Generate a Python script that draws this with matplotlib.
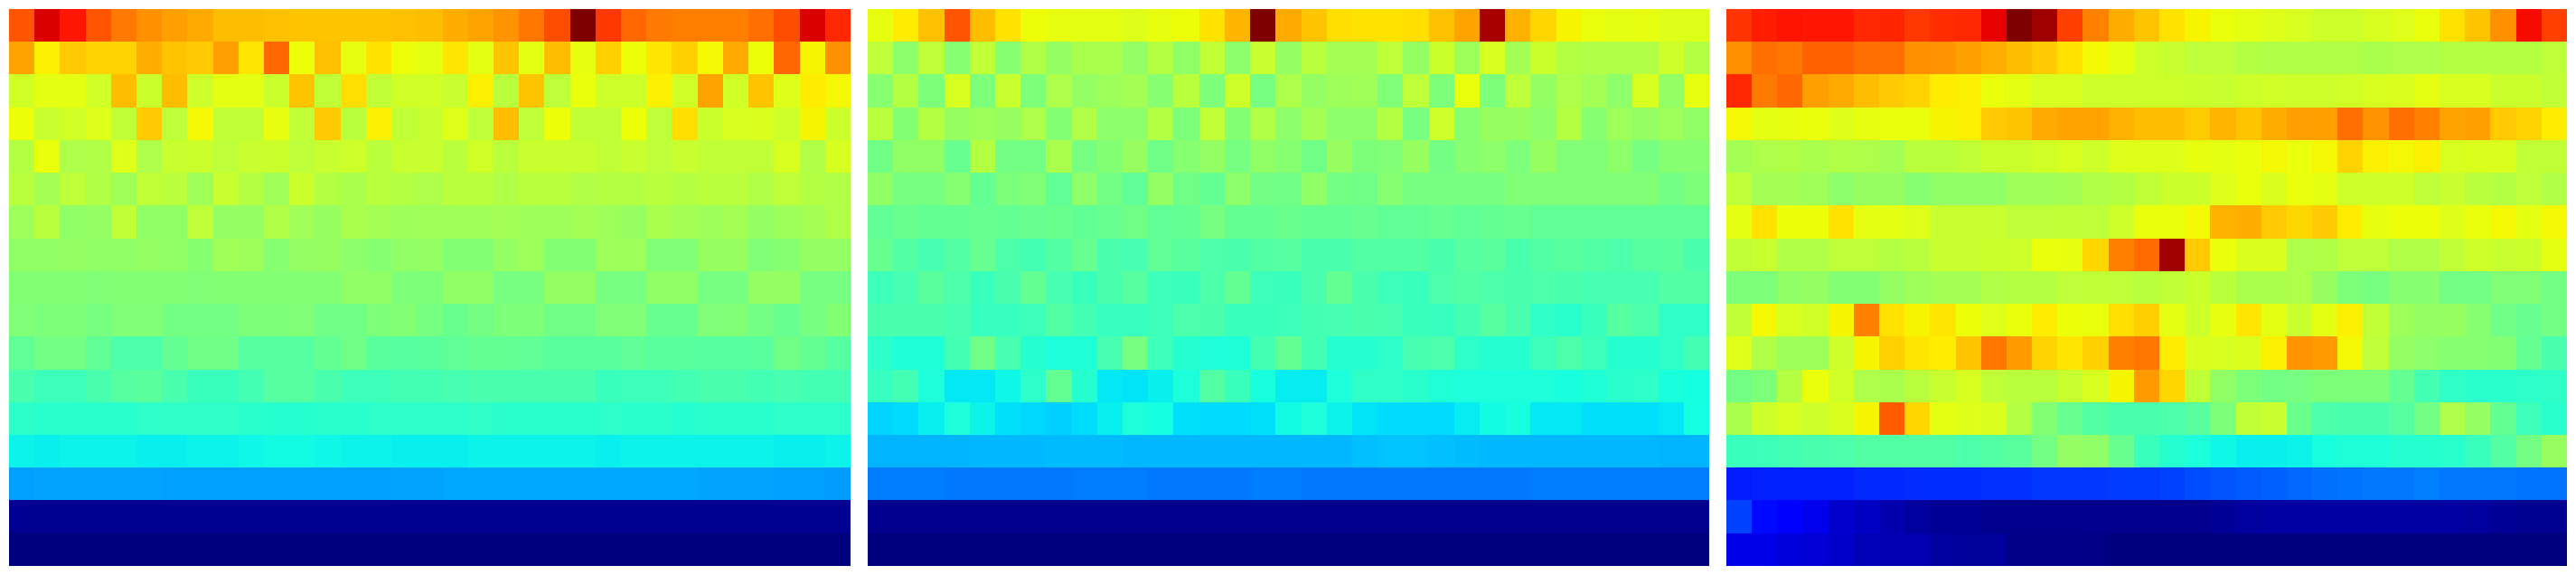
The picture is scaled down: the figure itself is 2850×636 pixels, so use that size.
import numpy as np
import matplotlib
matplotlib.use("Agg")
import matplotlib.pyplot as plt

# values in thousandths of the colour range
panel_a = [
[820,920,885,820,780,755,740,730,710,710,705,700,700,700,700,705,710,725,735,750,785,825,1000,850,800,780,775,775,775,790,825,920,865],
[735,655,695,685,685,725,700,695,740,665,800,640,705,630,670,640,625,665,625,700,625,710,630,690,640,665,690,645,730,640,800,650,755],
[605,625,625,605,710,595,710,600,625,625,595,700,585,675,585,605,605,590,655,575,700,580,635,600,600,655,605,735,605,700,620,660,645],
[640,590,605,620,585,695,580,645,585,585,630,585,695,575,655,585,590,620,580,710,580,640,585,585,640,580,675,595,610,615,600,650,595],
[570,635,560,565,620,560,590,595,580,590,595,580,590,600,575,590,590,575,605,575,590,590,590,585,590,580,590,585,585,585,610,565,610],
[575,550,580,565,545,585,575,545,590,570,545,595,570,555,575,570,560,575,575,565,575,575,565,570,570,575,570,575,575,565,580,570,565],
[540,575,525,530,585,525,525,580,530,530,565,545,535,555,550,540,545,545,545,550,540,540,550,540,535,555,550,540,550,530,540,550,565],
[525,525,530,525,525,530,525,515,545,540,515,530,535,520,515,525,530,510,510,530,540,510,510,540,540,505,505,535,535,505,515,530,530],
[510,510,510,505,510,510,510,505,510,510,510,510,510,525,525,500,500,525,525,495,495,530,530,495,495,525,525,495,495,530,530,495,495],
[505,500,500,495,505,505,490,490,490,500,500,505,485,485,500,510,495,480,490,500,500,485,485,505,505,475,475,505,505,490,475,495,510],
[465,490,490,465,445,445,470,485,485,455,455,455,470,485,460,455,460,465,470,470,465,460,460,460,465,460,460,455,455,460,485,470,455],
[440,425,425,440,455,460,440,420,420,430,455,455,440,425,425,430,430,435,440,440,440,440,440,420,425,425,430,440,440,430,435,430,430],
[405,400,400,400,400,405,410,410,410,400,395,395,400,400,405,405,405,405,410,400,400,400,400,405,400,400,395,400,400,400,405,405,405],
[365,362,365,365,365,360,360,365,365,368,374,374,370,365,365,362,362,362,365,365,365,365,365,362,365,365,365,365,365,365,362,362,365],
[284,286,286,286,286,286,285,282,282,283,285,285,285,285,285,287,289,291,291,292,292,292,292,292,292,292,290,289,288,286,285,282,280],
[16,16,16,16,16,16,16,16,16,16,16,16,16,16,16,16,16,16,16,16,16,16,16,16,16,16,16,16,16,16,16,16,16],
[0,0,0,0,0,0,0,0,0,0,0,0,0,0,0,0,0,0,0,0,0,0,0,0,0,0,0,0,0,0,0,0,0],
]

panel_b = [
[630,660,705,820,710,670,640,630,625,625,620,630,640,670,715,1000,730,700,675,670,670,675,705,735,963,720,680,650,635,625,630,620,620],
[580,520,580,515,585,515,565,530,555,555,530,570,525,585,520,590,530,575,550,550,580,530,595,540,610,550,595,570,565,565,565,600,570],
[515,570,500,610,500,590,500,560,530,540,550,515,575,500,600,495,560,530,540,545,505,580,500,635,500,580,530,560,550,520,610,530,630],
[575,510,570,535,540,535,560,510,565,520,520,570,500,585,510,565,520,550,520,520,570,495,600,515,535,535,520,570,515,540,530,540,525],
[485,525,525,475,570,490,490,555,495,510,535,485,515,530,495,525,515,485,535,500,505,535,490,515,520,500,535,505,505,520,495,515,515],
[525,495,495,515,470,500,505,465,520,490,465,530,485,470,520,490,485,525,490,485,515,495,495,495,495,505,505,505,505,505,505,490,500],
[465,480,470,470,475,470,475,480,465,475,485,465,470,495,470,470,480,470,470,475,465,465,475,465,470,475,465,465,465,465,465,465,465],
[475,450,435,450,475,445,430,450,475,440,435,465,460,445,440,450,455,440,440,450,450,450,440,455,460,440,450,455,450,445,455,460,440],
[425,435,460,445,420,440,470,435,420,440,455,425,420,445,470,425,420,440,470,440,425,420,445,450,445,440,445,440,435,435,435,450,450],
[440,440,440,435,415,415,425,450,430,415,415,425,445,440,420,420,425,430,435,440,435,420,415,430,455,440,410,400,420,455,445,410,410],
[405,390,390,430,485,435,395,385,390,435,495,425,395,385,390,430,470,430,395,395,405,435,445,405,395,395,425,445,425,395,395,410,430],
[415,430,385,355,352,370,405,470,395,352,348,362,385,450,420,380,358,358,385,410,410,400,390,385,385,385,385,380,390,400,405,380,378],
[335,340,362,385,367,345,337,332,342,362,385,375,345,340,340,345,372,385,367,350,340,340,340,358,372,380,353,353,345,345,345,353,375],
[302,303,303,303,305,307,308,312,310,309,308,308,306,306,306,305,305,305,305,314,318,318,315,311,308,308,308,308,308,308,305,303,303],
[248,248,248,246,246,246,246,246,248,248,248,246,246,246,246,248,248,246,246,246,244,244,244,246,246,246,249,249,249,249,249,248,248],
[14,14,14,14,14,14,14,14,14,14,14,14,14,14,14,14,14,14,14,14,14,14,14,14,14,14,14,14,14,14,14,14,14],
[0,0,0,0,0,0,0,0,0,0,0,0,0,0,0,0,0,0,0,0,0,0,0,0,0,0,0,0,0,0,0,0,0],
]

panel_c = [
[855,875,890,885,885,865,870,850,860,865,910,1000,970,840,770,725,700,670,650,635,625,620,610,600,600,610,620,635,670,700,755,895,840],
[755,790,785,805,805,790,790,755,750,740,725,710,695,670,645,630,600,590,580,580,570,565,565,565,565,555,560,560,570,570,570,570,580],
[865,780,800,740,730,710,695,685,660,655,635,625,610,610,600,600,600,600,595,590,600,605,600,600,605,610,615,625,610,610,595,595,585],
[645,625,630,635,620,630,635,635,650,655,695,700,730,735,735,720,710,710,695,715,700,725,740,740,790,750,790,770,735,740,695,685,660],
[550,560,565,555,565,560,550,575,575,585,595,595,605,610,600,620,620,620,630,625,635,645,635,645,685,655,645,655,610,615,615,585,585],
[580,550,550,545,520,535,535,515,525,525,525,545,545,550,565,570,585,595,595,620,635,615,635,625,600,600,600,580,590,575,570,580,565],
[625,670,640,640,670,625,625,620,590,590,590,580,580,585,580,600,635,635,645,720,725,695,680,695,660,630,640,640,620,635,645,625,645],
[585,590,565,565,580,580,570,575,590,590,595,600,635,630,680,775,795,970,695,635,615,615,560,565,580,580,565,565,585,600,590,595,625],
[500,500,525,530,510,510,530,540,550,550,565,570,570,580,585,580,575,585,595,575,555,555,560,535,500,495,515,515,490,490,505,505,490],
[585,645,610,605,650,770,670,650,665,640,620,635,660,640,635,675,690,625,600,630,665,625,590,625,655,585,540,530,535,515,485,475,490],
[620,565,540,540,600,650,690,665,660,700,785,745,685,665,690,775,785,660,615,610,615,655,750,745,645,580,530,520,515,515,510,470,440],
[490,500,570,635,605,560,555,575,590,610,585,575,575,590,610,650,745,680,585,525,500,490,495,500,500,500,470,430,410,400,400,405,410],
[555,600,610,600,615,650,810,680,625,620,615,570,510,475,450,440,440,445,460,500,585,590,480,445,440,440,455,490,560,530,470,425,400],
[420,425,430,440,445,450,450,450,450,445,450,460,490,530,525,475,420,395,385,370,362,362,365,380,390,390,395,395,400,420,450,490,535],
[155,160,160,160,160,165,165,170,170,170,175,175,180,180,180,185,185,190,200,210,215,220,230,235,240,245,245,250,245,245,245,240,240],
[188,135,120,95,70,60,40,30,20,20,15,12,12,12,12,12,12,12,15,20,30,35,35,35,35,35,35,35,35,30,20,18,18],
[93,90,80,75,65,50,45,45,30,25,25,10,10,10,5,0,0,0,0,0,0,0,0,0,0,0,0,0,0,0,0,0,0],
]

panels = [panel_a, panel_b, panel_c]

W, H = 2850, 636
lefts = [10, 960, 1910]
panel_w, panel_h, top = 930, 616, 10

fig = plt.figure(figsize=(W / 100, H / 100), dpi=100, facecolor="white")
for left, panel in zip(lefts, panels):
    ax = fig.add_axes([left / W, 1 - (top + panel_h) / H, panel_w / W, panel_h / H])
    ax.imshow(np.array(panel) / 1000.0, cmap="jet", vmin=0, vmax=1,
              aspect="auto", interpolation="nearest")
    ax.axis("off")
fig.savefig("out.png", dpi=100, facecolor="white")
